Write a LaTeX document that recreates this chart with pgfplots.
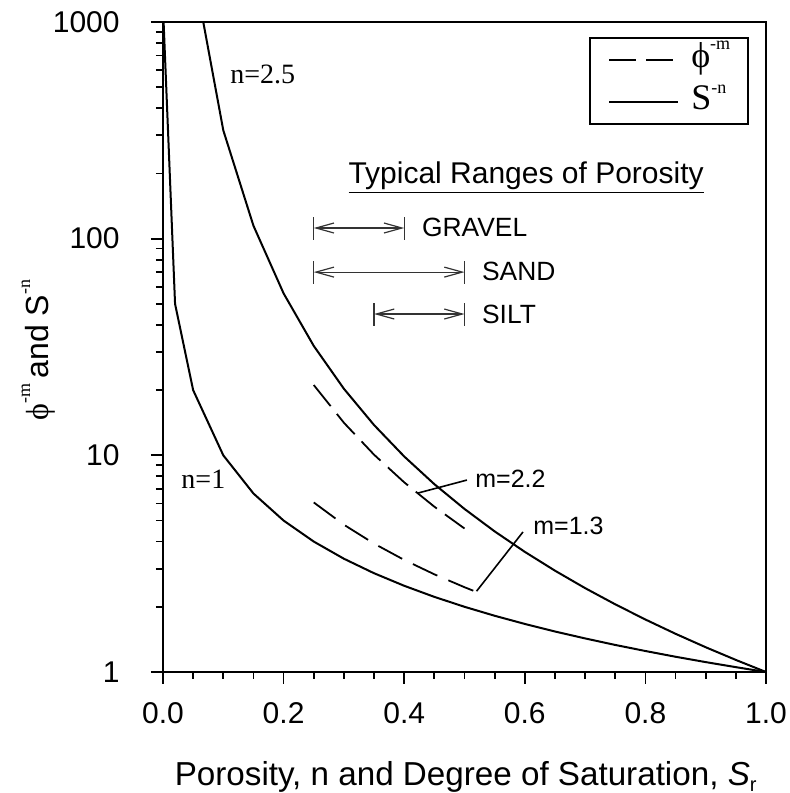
\documentclass[border=0pt]{standalone}
\usepackage{fontspec}
\setmainfont{Liberation Sans}
\newfontfamily\serif{Liberation Serif}
\usepackage{pgfplots}
\pgfplotsset{compat=1.18}
\usetikzlibrary{arrows.meta}

\pgfplotstableread{
x y
0.001 1000
0.02 50
0.05 20
0.10 10
0.15 6.667
0.20 5
0.25 4
0.30 3.333
0.35 2.857
0.40 2.5
0.45 2.222
0.50 2
0.55 1.818
0.60 1.667
0.65 1.538
0.70 1.429
0.75 1.333
0.80 1.25
0.85 1.176
0.90 1.111
0.95 1.053
1.00 1
}\none

\pgfplotstableread{
x y
0.05 1788.9
0.10 316.23
0.15 114.76
0.20 55.90
0.25 32.0
0.30 20.29
0.35 13.80
0.40 9.882
0.45 7.362
0.50 5.657
0.55 4.457
0.60 3.586
0.65 2.936
0.70 2.439
0.75 2.053
0.80 1.747
0.85 1.501
0.90 1.301
0.95 1.137
1.00 1
}\ntwofive

\pgfplotstableread{
x y
0.25 21.11
0.30 14.14
0.35 10.07
0.40 7.507
0.45 5.794
0.50 4.595
}\mtwotwo

\pgfplotstableread{
x y
0.25 6.063
0.30 4.784
0.35 3.915
0.40 3.291
0.45 2.824
0.50 2.462
0.525 2.311
}\monethree

\begin{document}
\begin{tikzpicture}
\useasboundingbox (-81.5bp,-60.5bp) rectangle (313.5bp,336bp);
\begin{axis}[
  scale only axis, width=301.5bp, height=325bp,
  ymode=log, xmin=0, xmax=1, ymin=1, ymax=1000,
  axis line style={line width=0.9bp},
  tick style={line width=0.9bp, black},
  tick align=outside, tick pos=left,
  major tick length=6bp, minor tick length=3.5bp,
  xtick={0,0.2,0.4,0.6,0.8,1}, xticklabels={0.0,0.2,0.4,0.6,0.8,1.0},
  minor x tick num=3,
  ytick={1,10,100,1000}, yticklabels={1,10,100,1000},
  ticklabel style={font=\fontsize{15bp}{18bp}\selectfont, inner sep=0pt},
  xticklabel style={anchor=base, yshift=-20bp},
  yticklabel style={anchor=east, xshift=-15.5bp},
  every axis x label/.style={at={(axis description cs:0.502,-0.174)}, anchor=base},
  every axis y label/.style={at={(axis description cs:-0.207,0.495)}, rotate=90, anchor=center},
  xlabel={\fontsize{16.6bp}{18bp}\selectfont Porosity, n and Degree of Saturation, {\itshape S}\raisebox{-3bp}{\fontsize{10bp}{10bp}\selectfont r}},
  ylabel={\fontsize{16bp}{18bp}\selectfont{\serif ϕ}\raisebox{9bp}{\serif\fontsize{9bp}{9bp}\selectfont -m}\,and S\raisebox{9bp}{\serif\fontsize{9bp}{9bp}\selectfont -n}},
  legend style={at={(rel axis cs:0.972,0.977)}, anchor=north east, draw=black, line width=0.9bp,
    inner xsep=9bp, inner ysep=3bp, row sep=5bp,
    nodes={inner sep=0pt, text height=12bp, text depth=4bp, anchor=base west},
    font=\serif\fontsize{18bp}{18bp}\selectfont},
  legend cell align=left,
  legend image code/.code={\draw[#1] (0bp,4bp) -- (34.5bp,4bp); \path (40.5bp,0bp);},
]
\addplot[black, line width=0.9bp, dash pattern=on 13.5bp off 5bp] table[x=x,y=y] {\mtwotwo};
\addlegendentry{ϕ\raisebox{9bp}{\fontsize{9bp}{9bp}\selectfont -m}}
\addplot[black, line width=1bp] table[x=x,y=y] {\none};
\addlegendentry{S\raisebox{8bp}{\fontsize{9bp}{9bp}\selectfont -n}}
\addplot[black, line width=0.9bp, dash pattern=on 13.5bp off 6bp, forget plot] table[x=x,y=y] {\monethree};
\addplot[black, line width=1bp, forget plot] table[x=x,y=y] {\ntwofive};

\node[anchor=base west, inner sep=0pt, font=\serif\fontsize{14bp}{14bp}\selectfont] at (axis cs:0.111,523) {n=2.5};
\node[anchor=base west, inner sep=0pt, font=\serif\fontsize{14bp}{14bp}\selectfont] at (axis cs:0.03,7) {n=1};
\node[anchor=base west, inner sep=0pt, font=\fontsize{15bp}{15bp}\selectfont] at (axis cs:0.307,180.7) {\underline{Typical Ranges of Porosity}};
\node[anchor=base west, inner sep=0pt, font=\fontsize{13.2bp}{14bp}\selectfont] at (axis cs:0.429,101.8) {GRAVEL};
\node[anchor=base west, inner sep=0pt, font=\fontsize{13.2bp}{14bp}\selectfont] at (axis cs:0.5285,64.4) {SAND};
\node[anchor=base west, inner sep=0pt, font=\fontsize{13.2bp}{14bp}\selectfont] at (axis cs:0.5285,40.8) {SILT};
\node[anchor=base west, inner sep=0pt, font=\fontsize{12.5bp}{14bp}\selectfont] at (axis cs:0.5174,7.07) {m=2.2};
\node[anchor=base west, inner sep=0pt, font=\fontsize{12.5bp}{14bp}\selectfont] at (axis cs:0.6136,4.29) {m=1.3};

\begin{scope}[black!80, line width=0.6bp]
\draw[{Straight Barb[length=9bp,width=5bp]}-{Straight Barb[length=9bp,width=5bp]}] (axis cs:0.25,112) -- (axis cs:0.40,112);
\draw (axis cs:0.25,112) ++(0bp,-5.75bp) -- ++(0bp,11.5bp);
\draw (axis cs:0.40,112) ++(0bp,-5.75bp) -- ++(0bp,11.5bp);
\draw[{Straight Barb[length=9bp,width=5bp]}-{Straight Barb[length=9bp,width=5bp]}] (axis cs:0.25,70.1) -- (axis cs:0.50,70.1);
\draw (axis cs:0.25,70.1) ++(0bp,-5.75bp) -- ++(0bp,11.5bp);
\draw (axis cs:0.50,70.1) ++(0bp,-5.75bp) -- ++(0bp,11.5bp);
\draw[{Straight Barb[length=9bp,width=5bp]}-{Straight Barb[length=9bp,width=5bp]}] (axis cs:0.35,44.9) -- (axis cs:0.50,44.9);
\draw (axis cs:0.35,44.9) ++(0bp,-5.75bp) -- ++(0bp,11.5bp);
\draw (axis cs:0.50,44.9) ++(0bp,-5.75bp) -- ++(0bp,11.5bp);
\end{scope}
\draw[black, line width=0.8bp] (axis cs:0.423,6.70) -- (axis cs:0.504,7.69);
\draw[black, line width=0.8bp] (axis cs:0.52,2.36) -- (axis cs:0.597,4.43);
\end{axis}
\end{tikzpicture}
\end{document}
